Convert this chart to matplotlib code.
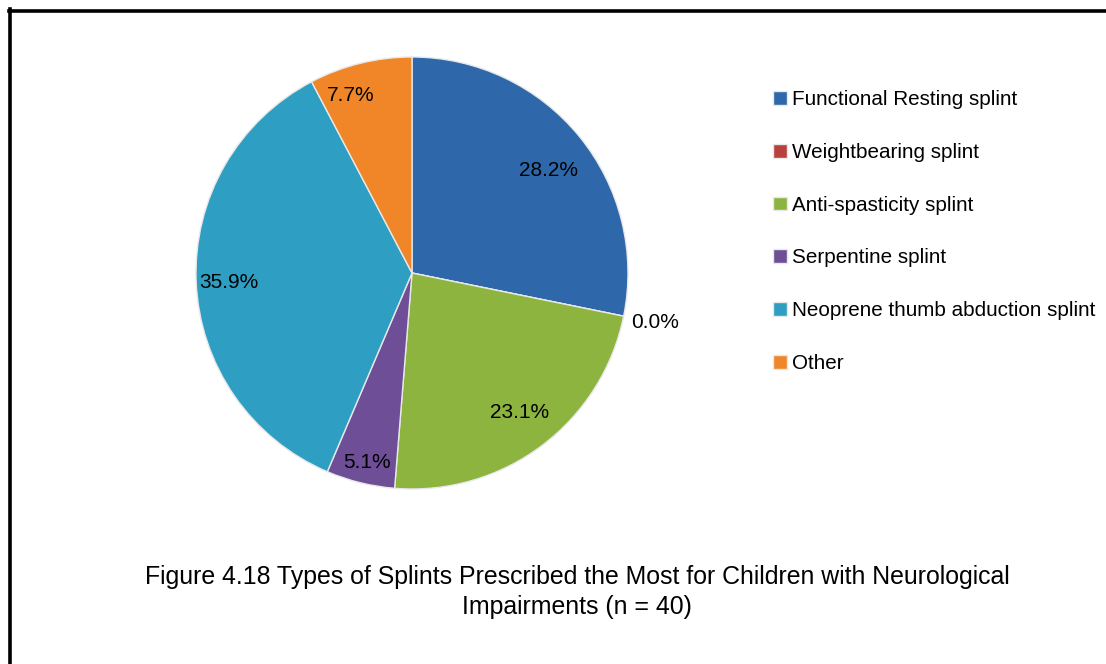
import numpy as np
import matplotlib
matplotlib.use("Agg")
import matplotlib.pyplot as plt
from matplotlib.lines import Line2D

plt.rcParams['font.family'] = ['Liberation Sans', 'DejaVu Sans']

# splint types and counts (percent of 39 responses)
labels = ["Functional Resting splint", "Weightbearing splint", "Anti-spasticity splint",
          "Serpentine splint", "Neoprene thumb abduction splint", "Other"]
counts = [11, 0, 9, 2, 14, 3]
colors = ["#2F68AA", "#B8403D", "#8CB43F", "#6F4E98", "#2E9FC2", "#F08628"]

caption = ("Figure 4.18 Types of Splints Prescribed the Most for Children with Neurological\n"
           "Impairments (n = 40)")

W, H = 1106, 664
fig = plt.figure(figsize=(W / 100, H / 100), dpi=100)

# pie centred at about (412, 273) px, radius about 216 px
cx, cy, r = 412, 273, 216
ax = fig.add_axes([(cx - r) / W, 1 - (cy + r) / H, 2 * r / W, 2 * r / H])
wedges, texts, autotexts = ax.pie(
    counts, colors=colors, startangle=90, counterclock=False,
    autopct="%.1f%%", pctdistance=0.84,
    wedgeprops=dict(edgecolor="#e8e8e8", linewidth=1),
    textprops=dict(fontsize=15, color="black"))
ax.set_xlim(-1, 1)
ax.set_ylim(-1, 1)
ax.set_aspect("equal")

# label placement like Excel's "best fit": radial distance and small angle nudge
label_dist = [0.79, 1.15, 0.815, 0.90, 0.85, 0.87]
label_nudge = [-2.3, 0, 0.9, 0.4, 0.8, 5.3]
for w, t, d, n in zip(wedges, autotexts, label_dist, label_nudge):
    if w.theta2 - w.theta1 < 1e-6:
        ang = np.deg2rad(w.theta1)
    else:
        ang = np.deg2rad((w.theta1 + w.theta2) / 2 + n)
    t.set_position((d * np.cos(ang), d * np.sin(ang)))

leg = fig.legend(wedges, labels, loc="upper left",
                 bbox_to_anchor=(765 / W, 1 - 82 / H),
                 frameon=False, fontsize=14.9,
                 handlelength=0.65, handleheight=0.65, handletextpad=0.25,
                 labelspacing=1.63, borderaxespad=0)

fig.text(577 / W, 1 - 592 / H, caption, ha="center", va="center",
         fontsize=17.9, linespacing=1.3)

# frame: only top and left edges show in the crop
lw = 2.6
fig.add_artist(Line2D([8.5 / W, 1], [1 - 10.5 / H, 1 - 10.5 / H], color="black", lw=lw))
fig.add_artist(Line2D([9.5 / W, 9.5 / W], [1 - 9 / H, 0], color="black", lw=lw))

fig.savefig("out.png", dpi=100, facecolor="white")
